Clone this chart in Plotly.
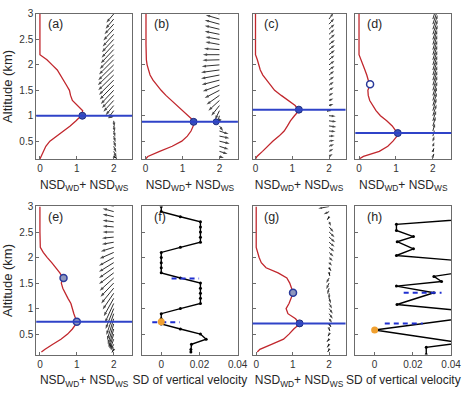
import plotly.graph_objects as go

# ---------------- data ----------------
alt = [0.15, 0.2, 0.3, 0.4, 0.5, 0.6, 0.7, 0.8, 0.9, 1.0, 1.1, 1.2, 1.3, 1.4, 1.5,
       1.6, 1.7, 1.8, 1.9, 2.0, 2.1, 2.2, 2.3, 2.4, 2.5, 2.6, 2.7, 2.8, 2.9, 3.0]

nsd_a = [0.0, 0.03, 0.09, 0.16, 0.27, 0.46, 0.66, 0.82, 0.98, 1.12, 1.16, 1.02, 0.88, 0.83, 0.80,
         0.72, 0.64, 0.57, 0.47, 0.33, 0.19, 0.0, 0.0, 0.0, 0.0, 0.0, 0.0, 0.0, 0.0, 0.0]
nsd_b = [0.0, 0.06, 0.38, 0.72, 0.98, 1.13, 1.23, 1.29, 1.30, 1.15, 0.98, 0.83, 0.68, 0.55, 0.42,
         0.30, 0.20, 0.12, 0.07, 0.04, 0.02, 0.01, 0.01, 0.01, 0.01, 0.01, 0.01, 0.01, 0.01, 0.01]
nsd_c = [0.0, 0.04, 0.19, 0.33, 0.47, 0.64, 0.78, 0.87, 0.95, 1.06, 1.18, 1.08, 0.88, 0.70, 0.52,
         0.42, 0.32, 0.20, 0.13, 0.10, 0.05, 0.0, 0.0, 0.0, 0.0, 0.0, 0.0, 0.0, 0.0, 0.0]
nsd_d = [0.0, 0.12, 0.55, 0.78, 0.92, 1.03, 1.0, 0.9, 0.75, 0.58, 0.46, 0.37, 0.29, 0.25, 0.24,
         0.29, 0.26, 0.21, 0.16, 0.10, 0.05, 0.0, 0.0, 0.0, 0.0, 0.0, 0.0, 0.0, 0.0, 0.0]
nsd_e = [0.04, 0.13, 0.35, 0.57, 0.75, 0.88, 0.98, 0.97, 0.92, 0.89, 0.84, 0.76, 0.69, 0.62, 0.58,
         0.62, 0.54, 0.44, 0.32, 0.20, 0.09, 0.01, 0.0, 0.0, 0.0, 0.0, 0.0, 0.0, 0.0, 0.0]
nsd_g = [0.03, 0.10, 0.42, 0.75, 0.90, 1.03, 1.19, 1.08, 0.87, 0.82, 0.90, 0.95, 1.01, 0.97, 0.92,
         0.84, 0.60, 0.27, 0.14, 0.08, 0.03, 0.0, 0.0, 0.0, 0.0, 0.0, 0.0, 0.0, 0.0, 0.0]

# wind arrows (tail at NSD = 2), one per altitude level
arr_alt = [0.2, 0.3, 0.4, 0.5, 0.6, 0.7, 0.8, 0.9, 1.0, 1.1, 1.2, 1.3, 1.4, 1.5, 1.6,
           1.7, 1.8, 1.9, 2.0, 2.1, 2.2, 2.3, 2.4, 2.5, 2.6, 2.7, 2.8, 2.9, 3.0]
arr_base = 2.0

u_a = [0.09, 0.08, 0.07, 0.06, 0.05, 0.04, 0.03, 0.02, -0.15, -0.15, -0.22, -0.28, -0.32, -0.35, -0.38,
       -0.40, -0.42, -0.43, -0.42, -0.40, -0.38, -0.35, -0.33, -0.32, -0.30, -0.28, -0.25, -0.22, -0.20]
v_a = [-0.04, -0.12, -0.12, -0.12, -0.12, -0.12, -0.12, -0.12, -0.05, -0.15, -0.19, -0.22, -0.25, -0.27, -0.28,
       -0.29, -0.30, -0.30, -0.30, -0.29, -0.28, -0.27, -0.26, -0.25, -0.24, -0.22, -0.20, -0.19, -0.17]
u_b = [0.12, 0.22, 0.25, 0.28, 0.27, 0.25, 0.10, -0.03, -0.06, -0.12, -0.22, -0.30, -0.35, -0.40, -0.45,
       -0.48, -0.50, -0.50, -0.48, -0.46, -0.45, -0.42, -0.38, -0.38, -0.40, -0.40, -0.40, -0.37, -0.35]
v_b = [-0.03, -0.05, -0.06, -0.05, -0.04, -0.06, -0.10, -0.04, -0.15, -0.18, -0.20, -0.20, -0.18, -0.15, -0.12,
       -0.09, -0.07, -0.05, -0.03, -0.01, 0.0, 0.02, 0.05, 0.05, 0.06, 0.07, 0.08, 0.08, 0.07]
u_c = [0.10, 0.12, 0.14, 0.15, 0.16, 0.18, 0.20, 0.20, 0.18, 0.05, 0.12, 0.12, 0.12, 0.13, 0.13,
       0.14, 0.14, 0.15, 0.15, 0.15, 0.16, 0.16, 0.16, 0.16, 0.15, 0.15, 0.14, 0.12, 0.10]
v_c = [0.05, 0.05, 0.04, 0.02, 0.0, -0.01, -0.02, -0.02, -0.01, 0.0, 0.03, 0.04, 0.05, 0.06, 0.07,
       0.07, 0.08, 0.08, 0.08, 0.09, 0.09, 0.09, 0.09, 0.10, 0.10, 0.10, 0.11, 0.12, 0.12]
u_d = [0.03, 0.03, 0.04, 0.04, 0.05, 0.06, 0.08, 0.09, 0.10, 0.10, 0.11, 0.11, 0.12, 0.12, 0.12,
       0.12, 0.12, 0.12, 0.12, 0.12, 0.12, 0.12, 0.12, 0.13, 0.13, 0.13, 0.13, 0.12, 0.12]
v_d = [0.05, 0.06, 0.08, 0.10, 0.12, 0.15, 0.18, 0.20, 0.22, 0.24, 0.25, 0.26, 0.27, 0.28, 0.28,
       0.28, 0.28, 0.28, 0.28, 0.28, 0.28, 0.28, 0.28, 0.28, 0.28, 0.28, 0.28, 0.28, 0.28]
u_e = [-0.05, -0.08, -0.10, -0.12, -0.14, -0.16, -0.18, -0.20, -0.22, -0.24, -0.27, -0.30, -0.34, -0.36, -0.38,
       -0.40, -0.40, -0.40, -0.40, -0.38, -0.35, -0.32, -0.32, -0.30, -0.30, -0.30, -0.30, -0.30, -0.28]
v_e = [-0.06, -0.12, -0.20, -0.28, -0.36, -0.40, -0.42, -0.42, -0.40, -0.38, -0.35, -0.32, -0.30, -0.27, -0.25,
       -0.22, -0.20, -0.18, -0.16, -0.12, -0.08, -0.04, -0.02, 0.0, 0.02, 0.03, 0.05, 0.06, 0.06]
u_g = [-0.04, -0.05, -0.06, -0.03, 0.02, 0.05, 0.08, 0.10, 0.10, 0.08, 0.05, 0.0, -0.05, -0.08, -0.08,
       0.02, 0.05, 0.08, 0.10, 0.12, 0.14, 0.15, 0.16, 0.15, 0.12, 0.05, -0.05, -0.15, -0.30]
v_g = [-0.05, -0.06, -0.05, -0.04, -0.04, -0.06, -0.08, -0.10, -0.10, -0.10, -0.10, -0.12, -0.12, -0.12, -0.10,
       -0.06, -0.06, -0.06, -0.07, -0.08, -0.08, -0.09, -0.10, -0.10, -0.10, -0.08, -0.06, -0.05, -0.04]

# boundary-layer heights (blue lines) and markers
blh = {"a": 1.0, "b": 0.88, "c": 1.12, "d": 0.66, "e": 0.74, "g": 0.71}
peak_x = {"a": [1.15], "b": [1.30], "c": [1.18], "d": [1.05], "g": [1.19]}
peak_y = {"a": [1.0], "b": [0.88], "c": [1.12], "d": [0.66], "g": [0.71]}
ring_x = {"d": [0.30], "e": [0.64, 1.0], "g": [1.01]}
ring_y = {"d": [1.62], "e": [1.60, 0.74], "g": [1.31]}
dot_b_x = [1.91]
dot_b_y = [0.88]

# SD of vertical velocity
sd_f = [0.0155, 0.0155, 0.0158, 0.0235, 0.0205, 0.010, 0.0, 0.0, 0.0, 0.010, 0.0205, 0.0205, 0.0205, 0.0205, 0.0205,
        0.010, 0.0, 0.0, 0.0, 0.0, 0.0, 0.010, 0.0205, 0.0205, 0.0205, 0.0205, 0.0205, 0.010, 0.0, 0.0]
h_alt = [3.0, 2.77, 2.65, 2.53, 2.41, 2.31, 2.17, 2.04, 1.92, 1.74, 1.63, 1.53, 1.44, 1.31, 1.08,
         0.95, 0.82, 0.58, 0.33, 0.24, 0.10]
h_sd = [0.055, 0.055, 0.0114, 0.0114, 0.0203, 0.0118, 0.0203, 0.0114, 0.05, 0.05, 0.031, 0.035, 0.0114, 0.031, 0.0117,
        0.048, 0.048, 0.0, 0.045, 0.027, 0.027]
f_orange = (0.0, 0.74)
h_orange = (0.0, 0.58)
f_dash_alt = [1.59, 0.73]
f_dash_x0 = [0.0054, -0.0047]
f_dash_x1 = [0.0198, 0.0097]
h_dash_alt = [1.31, 0.71]
h_dash_x0 = [0.0152, 0.0053]
h_dash_x1 = [0.0350, 0.0252]

labels = ["(a)", "(b)", "(c)", "(d)", "(e)", "(f)", "(g)", "(h)"]
nsd_xticks = [0, 1, 2]
sd_xticks = [0, 0.02, 0.04]
sd_xticktext = ["0", "0.02", "0.04"]
y_ticks = [0.5, 1, 1.5, 2, 2.5, 3]
y_ticktext = ["0.5", "1", "1.5", "2", "2.5", "3"]

# ---------------- figure ----------------
col_x = [[0.0781, 0.2848], [0.3059, 0.5127], [0.5443, 0.7447], [0.7658, 0.9726]]
row_y = [[0.6031, 0.9771], [0.0992, 0.4809]]
x_ranges = [[-0.1, 2.5], [-0.1, 2.5], [-0.08, 2.45], [-0.1, 2.5],
            [-0.1, 2.5], [-0.0101, 0.0401], [-0.1, 2.45], [-0.0101, 0.0401]]
y_ranges = [[0.15, 3.002], [0.1, 3.002]]

RED = "#c1272d"
BLUE = "#2f43c8"
MBLUE = "#3a52b6"
ORANGE = "#f0a030"
AX = "#6b6b6b"
FONT = "Liberation Sans, Arial, sans-serif"

fig = go.Figure()

def ax_names(i):
    return ("x" if i == 1 else f"x{i}"), ("y" if i == 1 else f"y{i}")

nsd_panels = {
    1: ("a", nsd_a, u_a, v_a),
    2: ("b", nsd_b, u_b, v_b),
    3: ("c", nsd_c, u_c, v_c),
    4: ("d", nsd_d, u_d, v_d),
    5: ("e", nsd_e, u_e, v_e),
    7: ("g", nsd_g, u_g, v_g),
}

for i, (key, nsd, uu, vv) in nsd_panels.items():
    xa, ya = ax_names(i)
    # blue boundary-layer line across the panel
    fig.add_shape(type="line", xref=f"{xa} domain", yref=ya, x0=0, x1=1,
                  y0=blh[key], y1=blh[key], line=dict(color=BLUE, width=2))
    # wind arrows
    xs, ys, syms, sizes = [], [], [], []
    for z, du, dv in zip(arr_alt, uu, vv):
        xs += [arr_base, arr_base + du, None]
        ys += [z, z + dv, None]
        syms += ["circle", "arrow", "circle"]
        sizes += [0, 4.5 if key in ("a", "b", "e") else 4, 0]
    fig.add_trace(go.Scatter(x=xs, y=ys, xaxis=xa, yaxis=ya, mode="lines+markers",
                             line=dict(color="#303030", width=1),
                             marker=dict(symbol=syms, size=sizes, angleref="previous",
                                         color="black", line=dict(width=0)),
                             hoverinfo="skip", showlegend=False))
    # NSD profile
    fig.add_trace(go.Scatter(x=nsd, y=alt, xaxis=xa, yaxis=ya, mode="lines",
                             line=dict(color=RED, width=1.3), showlegend=False))
    if key in peak_x:
        fig.add_trace(go.Scatter(x=peak_x[key], y=peak_y[key], xaxis=xa, yaxis=ya, mode="markers",
                                 marker=dict(symbol="circle", size=7, color=MBLUE,
                                             line=dict(color="#1d2b80", width=1)),
                                 showlegend=False))
    if key in ring_x:
        fill = "white" if key == "d" else "#8e97bd"
        fig.add_trace(go.Scatter(x=ring_x[key], y=ring_y[key], xaxis=xa, yaxis=ya, mode="markers",
                                 marker=dict(symbol="circle", size=7, color=fill,
                                             line=dict(color="#2a3a9a", width=1.5)),
                                 showlegend=False))
    if key == "b":
        fig.add_trace(go.Scatter(x=dot_b_x, y=dot_b_y, xaxis=xa, yaxis=ya, mode="markers",
                                 marker=dict(symbol="circle", size=6, color=MBLUE,
                                             line=dict(color="#1d2b80", width=1)),
                                 showlegend=False))

# SD panels
sd_panels = {
    6: (sd_f, alt, f_orange, f_dash_alt, f_dash_x0, f_dash_x1),
    8: (h_sd, h_alt, h_orange, h_dash_alt, h_dash_x0, h_dash_x1),
}
for i, (sd, z, orng, dalt, dx0, dx1) in sd_panels.items():
    xa, ya = ax_names(i)
    fig.add_trace(go.Scatter(x=sd, y=z, xaxis=xa, yaxis=ya, mode="lines+markers",
                             line=dict(color="black", width=1.4),
                             marker=dict(size=3, color="black"), showlegend=False))
    for a_, x0, x1 in zip(dalt, dx0, dx1):
        fig.add_trace(go.Scatter(x=[x0, x1], y=[a_, a_], xaxis=xa, yaxis=ya, mode="lines",
                                 line=dict(color="#1f2fd0", width=2, dash="5px,4px"),
                                 showlegend=False))
    fig.add_trace(go.Scatter(x=[orng[0]], y=[orng[1]], xaxis=xa, yaxis=ya, mode="markers",
                             marker=dict(size=7, color=ORANGE, line=dict(width=0)),
                             showlegend=False))

layout = dict(width=474, height=393, margin=dict(l=0, r=0, t=0, b=0),
              paper_bgcolor="white", plot_bgcolor="white",
              font=dict(family=FONT, color="#262626"), showlegend=False)

nsd_title = "NSD<sub>WD</sub>+ NSD<sub>WS</sub>"
sd_title = "SD of vertical velocity"
annotations = []
for i in range(1, 9):
    r, c = (i - 1) // 4, (i - 1) % 4
    xa, ya = ax_names(i)
    is_sd = i in (6, 8)
    xaxis = dict(domain=col_x[c], anchor=ya, range=x_ranges[i - 1],
                 showline=True, mirror=True, linecolor=AX, linewidth=1,
                 ticks="inside", ticklen=3, tickcolor=AX, showgrid=False, zeroline=False,
                 tickfont=dict(size=10, color="#333333"),
                 tickvals=sd_xticks if is_sd else nsd_xticks,
                 ticktext=sd_xticktext if is_sd else [str(t) for t in nsd_xticks],
                 title=dict(text=sd_title if is_sd else nsd_title,
                            font=dict(size=12, color="#262626"), standoff=7))
    yaxis = dict(domain=row_y[r], anchor=xa, range=y_ranges[r],
                 showline=True, mirror=True, linecolor=AX, linewidth=1,
                 ticks="inside", ticklen=3, tickcolor=AX, showgrid=False, zeroline=False,
                 tickvals=y_ticks, ticktext=y_ticktext,
                 showticklabels=(c == 0), tickfont=dict(size=10, color="#333333"))
    if c == 0:
        yaxis["title"] = dict(text="Altitude (km)", font=dict(size=13, color="#262626"), standoff=4)
    layout["xaxis" if i == 1 else f"xaxis{i}"] = xaxis
    layout["yaxis" if i == 1 else f"yaxis{i}"] = yaxis
    annotations.append(dict(text=labels[i - 1], xref=f"{xa} domain", yref=f"{ya} domain",
                            x=0.1, y=0.93, xanchor="left", yanchor="middle", showarrow=False,
                            font=dict(size=12.5, color="#262626")))
layout["annotations"] = annotations
fig.update_layout(**layout)

fig.write_html("out.html")
